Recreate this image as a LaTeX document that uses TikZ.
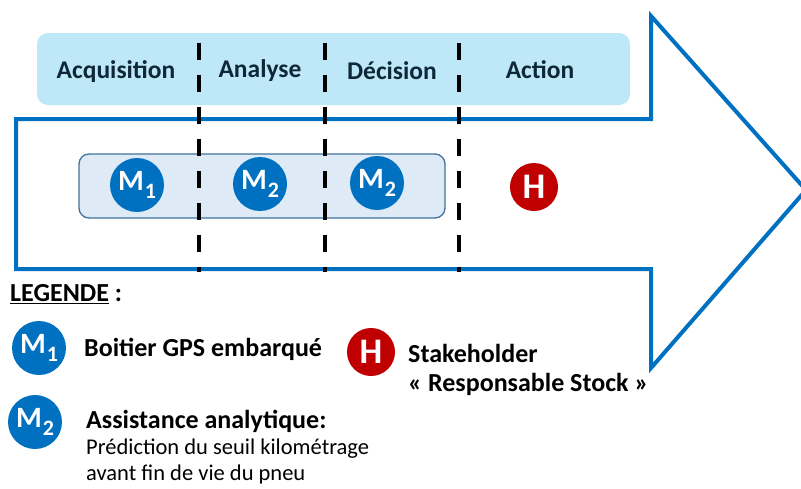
\documentclass[tikz,border=0pt]{standalone}
\usepackage{fontspec}
\setmainfont{Carlito}
\definecolor{arrowblue}{RGB}{0,112,192}
\definecolor{bandblue}{RGB}{190,231,247}
\definecolor{bandtext}{RGB}{14,40,55}
\definecolor{innerfill}{RGB}{222,234,246}
\definecolor{innerdraw}{RGB}{65,113,156}
\definecolor{hred}{RGB}{192,0,0}
\newcommand{\msub}[1]{M\kern1pt\raisebox{-8pt}{\fontsize{22}{22}\selectfont #1}}
\begin{document}
\begin{tikzpicture}[x=1pt,y=-1pt,
  phase/.style={font=\fontsize{25.5}{28}\selectfont\bfseries, text=bandtext},
  mcirc/.style={circle, fill=arrowblue, minimum size=54pt, inner sep=0pt, text=white, font=\fontsize{29.5}{30}\selectfont\bfseries},
  hcirc/.style={circle, fill=hred, minimum size=48pt, inner sep=0pt, text=white, font=\fontsize{36}{36}\selectfont\bfseries},
  sepline/.style={line width=3.5pt, black, dash pattern=on 17pt off 15pt},
  legb/.style={anchor=west, inner sep=0pt, font=\fontsize{26}{28}\selectfont\bfseries},
  legr/.style={anchor=west, inner sep=0pt, font=\fontsize{22.5}{26}\selectfont}
]
\useasboundingbox (0,0) rectangle (801,488);
% arrow outline
\draw[arrowblue, line width=4pt, line join=miter]
  (16,119) -- (651,119) -- (651,16) -- (806,190) -- (651,368) -- (651,269) -- (16,269) -- cycle;
% top band
\fill[bandblue, rounded corners=11pt] (37,33) rectangle (630,105);
% inner box
\draw[innerdraw, fill=innerfill, line width=1.3pt, rounded corners=10pt] (79,154) rectangle (445,218);
% separators
\foreach \x/\n in {199/a,325/b,459/c}{
  \coordinate (s\n t) at (\x,43);
  \coordinate (s\n b) at (\x,272);
  \draw[sepline] (s\n t) -- (s\n b);
}
% phase labels
\node[phase] (acq) at (116,72) {Acquisition};
\node[phase] (ana) at (260,71) {Analyse};
\node[phase] (dec) at (392,71) {Décision};
\node[phase] (act) at (540,70) {Action};
% circles in box
\node[mcirc] (m1) at (137,185) {\msub{1}};
\node[mcirc] (m2a) at (260,184) {\msub{2}};
\node[mcirc] (m2b) at (377,183) {\msub{2}};
\node[hcirc] (h) at (534,187) {H};
% legend
\node[legb] (leg) at (10,294) {\underline{LEGENDE} :};
\node[mcirc] (lm1) at (39,348) {\msub{1}};
\node[legb] (t1) at (84,349) {Boitier GPS embarqué};
\node[hcirc] (lh) at (371,352) {H};
\node[legb] (t2) at (408,353) {Stakeholder};
\node[legb] (t3) at (408,384) {« Responsable Stock »};
\node[mcirc] (lm2) at (35,422) {\msub{2}};
\node[legb] (t4) at (86,421) {Assistance analytique:};
\node[legr] (t5) at (86,449) {Prédiction du seuil kilométrage};
\node[legr] (t6) at (86,474) {avant fin de vie du pneu};
\end{tikzpicture}
\end{document}
